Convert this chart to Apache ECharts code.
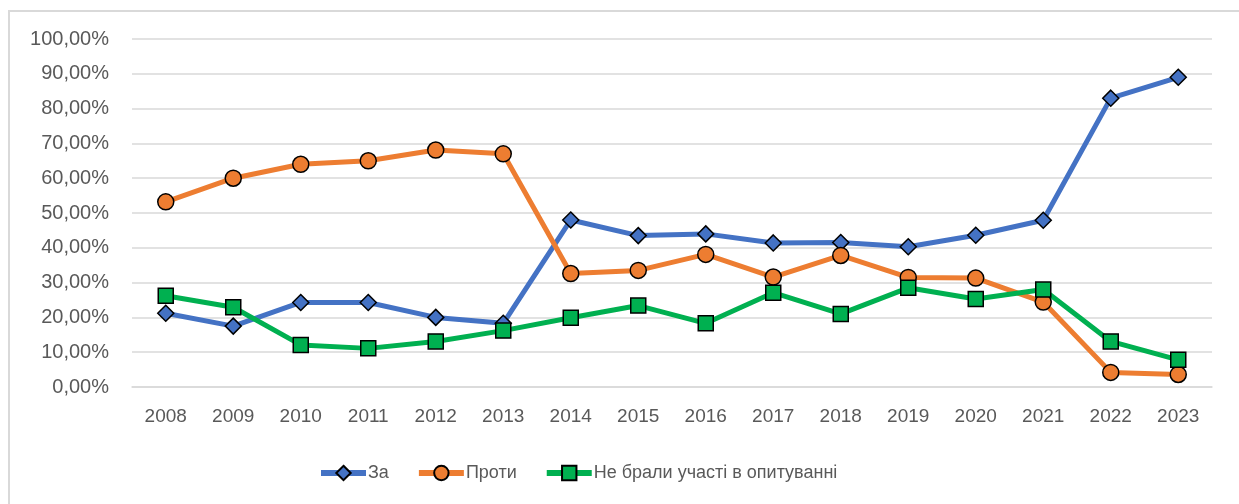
<!DOCTYPE html>
<html>
<head>
<meta charset="utf-8">
<script src="https://cdn.jsdelivr.net/npm/echarts@6/dist/echarts.min.js"></script>
<style>
    html, body { margin: 0; padding: 0; background: #fff; }
    #frame {
        position: absolute; left: 8px; top: 10px; width: 1240px; height: 500px;
        border-left: 2px solid #d9d9d9; border-top: 2px solid #d9d9d9;
    }
    #chart { position: absolute; left: 0; top: 0; width: 1239px; height: 504px; }
</style>
</head>
<body>
<div id="frame"></div>
<div id="chart"></div>
<script>
// роки опитування
let years = ["2008","2009","2010","2011","2012","2013","2014","2015",
             "2016","2017","2018","2019","2020","2021","2022","2023"];
// частки у відсотках
let zaValues = [21.2, 17.5, 24.3, 24.3, 20.0, 18.3, 48.0, 43.5,
                44.0, 41.4, 41.5, 40.3, 43.6, 47.9, 83.0, 89.0];
let protyValues = [53.2, 60.0, 64.0, 65.0, 68.1, 67.0, 32.6, 33.5,
                   38.1, 31.6, 37.8, 31.5, 31.3, 24.4, 4.2, 3.6];
let neValues = [26.2, 22.9, 12.1, 11.1, 13.1, 16.2, 19.9, 23.4,
                18.3, 27.1, 21.0, 28.5, 25.3, 28.0, 13.1, 7.8];
let seriesNames = ["За", "Проти", "Не брали участі в опитуванні"];

let fontName = "Liberation Sans";
let labelColor = "#595959";
let gridColor = "#d9d9d9";

let makeSeries = (name, values, color, symbol, size) => {
    return {
        name: name,
        type: "line",
        data: values,
        symbol: symbol,
        symbolSize: size,
        lineStyle: { color: color, width: 5 },
        itemStyle: { color: color, borderColor: "#000", borderWidth: 1.5 },
        emphasis: { disabled: true },
        z: 2
    };
};

let option = {
    animation: false,
    textStyle: { fontFamily: fontName },
    grid: { left: 132, right: 27, top: 39, bottom: 117 },
    legend: {
        top: 459,
        left: 313,
        itemWidth: 45,
        itemHeight: 18,
        itemGap: 27,
        lineStyle: { width: 6 },
        textStyle: { fontSize: 18, color: labelColor, fontFamily: fontName, padding: [0, 0, 0, -3] },
        data: seriesNames
    },
    xAxis: {
        type: "category",
        data: years,
        boundaryGap: true,
        axisLine: { show: true, lineStyle: { color: gridColor, width: 1.5 } },
        axisTick: { show: false },
        axisLabel: { color: labelColor, fontSize: 19, margin: 20 }
    },
    yAxis: {
        type: "value",
        min: 0,
        max: 100,
        interval: 10,
        axisLine: { show: false },
        axisTick: { show: false },
        axisLabel: {
            color: labelColor, fontSize: 20, margin: 23,
            formatter: v => v.toFixed(2).replace(".", ",") + "%"
        },
        splitLine: { show: true, lineStyle: { color: gridColor, width: 1.5 } }
    },
    series: [
        makeSeries(seriesNames[0], zaValues, "#4472C4", "diamond", 16),
        makeSeries(seriesNames[1], protyValues, "#ED7D31", "circle", 16),
        makeSeries(seriesNames[2], neValues, "#00B050", "rect", 15)
    ]
};

let myChart = echarts.init(document.getElementById("chart"));
myChart.setOption(option);
</script>
</body>
</html>
